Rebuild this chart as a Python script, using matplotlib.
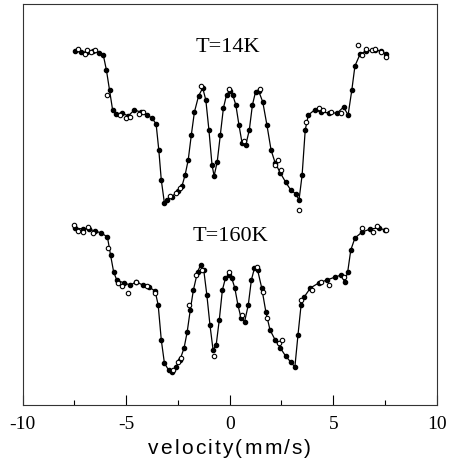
import numpy as np
import matplotlib
matplotlib.use("Agg")
import matplotlib.pyplot as plt

# fitted spectrum points (velocity mm/s, relative counts)
v_14k = [-7.45, -7.2, -6.9, -6.6, -6.3, -6.1, -5.95, -5.8, -5.65, -5.5, -5.2, -4.9, -4.6, -4.3,
         -4.0, -3.75, -3.55, -3.42, -3.3, -3.15, -3.0, -2.8, -2.5, -2.3, -2.15, -2.0, -1.85,
         -1.7, -1.5, -1.3, -1.15, -1.0, -0.85, -0.75, -0.6, -0.45, -0.3, -0.15, 0.0, 0.15,
         0.3, 0.45, 0.6, 0.78, 0.95, 1.1, 1.25, 1.4, 1.6, 1.8, 2.0, 2.2, 2.45, 2.7, 2.95,
         3.2, 3.35, 3.5, 3.65, 3.8, 4.1, 4.4, 4.8, 5.2, 5.5, 5.72, 5.9, 6.05, 6.3, 6.6, 7.0,
         7.3, 7.55]
px_14k = [51, 52, 52, 51, 53, 55, 70, 90, 110, 114, 113, 116, 110, 112, 115, 118, 124, 150,
          180, 203, 200, 197, 191, 186, 175, 160, 135, 112, 96, 88, 100, 130, 165, 176, 162,
          135, 108, 95, 91, 95, 105, 125, 143, 145, 130, 105, 92, 91, 102, 125, 150, 163, 173,
          182, 190, 194, 200, 175, 130, 115, 110, 112, 113, 113, 107, 115, 90, 66, 54, 51, 50,
          51, 54]

v_160k = [-7.45, -7.1, -6.8, -6.5, -6.2, -5.9, -5.75, -5.6, -5.45, -5.1, -4.8, -4.5, -4.2,
          -3.9, -3.6, -3.45, -3.3, -3.15, -2.95, -2.8, -2.6, -2.4, -2.2, -2.05, -1.9, -1.75,
          -1.55, -1.4, -1.25, -1.1, -0.95, -0.8, -0.65, -0.5, -0.35, -0.2, -0.05, 0.1, 0.25,
          0.4, 0.55, 0.72, 0.9, 1.05, 1.2, 1.35, 1.55, 1.75, 1.95, 2.2, 2.45, 2.7, 2.95, 3.15,
          3.3, 3.45, 3.6, 3.9, 4.3, 4.7, 5.1, 5.4, 5.55, 5.7, 5.85, 6.05, 6.4, 6.8, 7.2, 7.5]
px_160k = [228, 229, 229, 231, 233, 237, 255, 272, 280, 283, 285, 282, 285, 287, 291, 305,
           340, 363, 370, 372, 367, 360, 348, 332, 310, 290, 272, 265, 270, 295, 325, 350,
           345, 320, 290, 278, 275, 278, 288, 305, 318, 322, 305, 280, 268, 270, 288, 312,
           330, 340, 348, 356, 362, 367, 335, 305, 297, 288, 283, 280, 277, 275, 282, 272,
           250, 238, 232, 229, 228, 230]

# scattered raw data points (open circles)
v_14k_open = [-7.3, -7.0, -6.9, -6.7, -6.5, -5.9, -5.3, -5.0, -4.8, -4.4, -4.2, -2.9, -2.6,
              -2.4, -1.4, -0.05, 0.7, 1.45, 2.2, 2.35, 2.5, 3.35, 3.7, 4.3, 4.5, 4.9, 5.4,
              6.2, 6.4, 6.6, 6.85, 7.0, 7.3, 7.55]
px_14k_open = [49, 54, 50, 52, 50, 95, 115, 118, 117, 114, 112, 196, 193, 188, 86, 89, 141,
               89, 165, 160, 170, 210, 122, 108, 110, 112, 113, 45, 55, 49, 50, 49, 52, 57]
v_160k_open = [-7.5, -7.3, -7.1, -6.85, -6.6, -5.85, -5.4, -5.2, -4.9, -4.5, -4.0, -3.6,
               -2.75, -2.5, -2.35, -1.95, -1.6, -1.35, -0.75, -0.05, 0.6, 1.3, 1.6, 1.8,
               2.4, 2.55, 3.45, 4.0, 4.4, 4.8, 5.5, 6.4, 6.9, 7.1, 7.55]
px_160k_open = [225, 231, 232, 227, 233, 248, 283, 286, 293, 282, 286, 293, 370, 362, 358,
                305, 275, 270, 356, 272, 315, 267, 292, 318, 343, 340, 300, 290, 282, 285,
                277, 228, 232, 226, 230]

labels = ["T=14K", "T=160K"]
xlabel = "velocity(mm/s)"

fig = plt.figure(figsize=(4.54, 4.63), dpi=100)
ax = fig.add_axes([0.0496, 0.1253, 0.9124, 0.8661])

for v, p, vo, po in [(v_14k, px_14k, v_14k_open, px_14k_open),
                     (v_160k, px_160k, v_160k_open, px_160k_open)]:
    y = 405 - np.array(p)
    yo = 405 - np.array(po)
    ax.plot(v, y, color="black", lw=0.9, marker="o", ms=3, mfc="black", mec="black")
    ax.plot(vo, yo, ls="none", marker="o", ms=3.2, mfc="white", mec="black", mew=0.8)

ax.text(-0.1, 405 - 48, labels[0], ha="center", va="center", fontsize=16, family="Liberation Serif")
ax.text(0.05, 405 - 237, labels[1], ha="center", va="center", fontsize=16, family="Liberation Serif")

ax.set_xlim(-10, 10)
ax.set_ylim(0, 401)
ax.set_xticks([-10, -5, 0, 5, 10])
ax.set_xticks([-7.5, -2.5, 2.5, 7.5], minor=True)
ax.set_xticklabels(["-10", "-5", "0", "5", "10"], family="Liberation Serif", fontsize=14)
ax.tick_params(axis="x", which="major", direction="in", length=7, width=0.8, pad=8)
ax.tick_params(axis="x", which="minor", direction="in", length=3.5, width=0.8)
ax.set_yticks([])
for s in ax.spines.values():
    s.set_linewidth(0.8)
    s.set_color("#333333")

# x label with wide letter spacing, placed char by char
renderer = fig.canvas.get_renderer()
widths = []
for ch in xlabel:
    t = fig.text(0, 0, ch.replace(" ", "_"), fontsize=15, family="Liberation Sans")
    widths.append(t.get_window_extent(renderer).width)
    t.remove()
gap = 2.2
total = sum(widths) + gap * (len(xlabel) - 1)
x0 = 229.5 - total / 2
for ch, w in zip(xlabel, widths):
    fig.text(x0 / 454, 1 - 449 / 463, ch, fontsize=15, family="Liberation Sans",
             ha="left", va="center")
    x0 += w + gap

fig.savefig("out.png", dpi=100)
